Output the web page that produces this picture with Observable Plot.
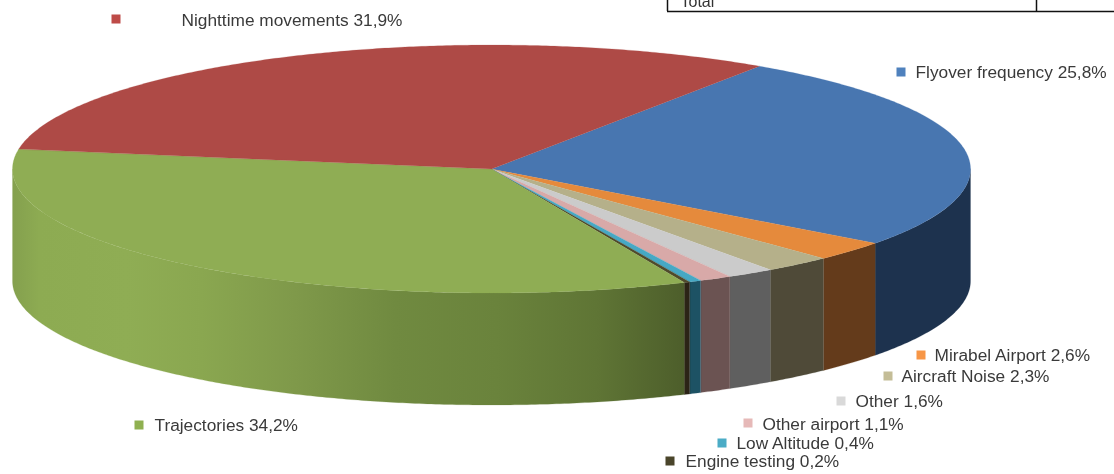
<!DOCTYPE html>
<html>
<head>
<meta charset="utf-8">
<style>html,body{margin:0;padding:0;background:#fff}svg{display:block;filter:blur(0.4px)}</style>
<script src="https://cdn.jsdelivr.net/npm/d3@7"></script>
<script src="https://cdn.jsdelivr.net/npm/@observablehq/plot@0.6"></script>
</head>
<body>
<div id="chart"></div>
<script>
// Data, clockwise from the first slice
const categories = ["Flyover frequency","Mirabel Airport","Aircraft Noise","Other","Other airport","Low Altitude","Engine testing","Trajectories","Nighttime movements"];
const shares = [25.8,2.6,2.3,1.6,1.1,0.4,0.2,34.2,31.9];
const shareLabels = ["25,8%","2,6%","2,3%","1,6%","1,1%","0,4%","0,2%","34,2%","31,9%"];

// Styles
const topColors = ["#4876b0","#e58a3c","#b5b08a","#cbcbcb","#d8a9a8","#46a8c4","#4f4a2c","#8fad54","#ae4a46"];
const sideColors = ["#1d324e","#643b1b","#4f4a38","#5f5f5f","#6b5352","#1d5264","#2b2316","url(#greenSide)","#6e2e2c"];
const swatchColors = ["#4f81bd","#f79646","#c4bd97","#d9d9d9","#e6b9b8","#4bacc6","#4a452a","#8fb050","#be4b48"];
const greenStops = [[0,"#84a04e"],[0.04,"#8dab52"],[0.17,"#8fad54"],[0.28,"#8aa750"],[0.42,"#7f994a"],[0.57,"#708a40"],[0.72,"#6a833c"],[0.87,"#5f7535"],[1,"#4d5e2b"]];

// Layout
const cx = 491.5, cy = 169, rx = 479, ry = 124, depth = 112, startDeg = 34;
const labelAt = [[915,72],[934,355],[901,376],[855,401],[762,424],[736,443],[685,461],[154,425],[181,20]];
const swatchAt = [[901,72],[921,355],[888,376],[841,401],[748,423],[722,443],[670,461],[139,425],[116,19]];

const total = d3.sum(shares);
const rim = (deg) => {
  const a = deg * Math.PI / 180;
  return [cx + rx * Math.sin(a), cy - ry * Math.cos(a)];
};
let cumulative = startDeg;
const slices = categories.map((name, i) => {
  const from = cumulative;
  const to = from + shares[i] / total * 360;
  cumulative = to;
  return {name, from, to, top: topColors[i], side: sideColors[i]};
});
const tops = slices.flatMap(s => {
  const n = Math.max(2, Math.ceil(s.to - s.from) * 2);
  return d3.range(n + 1).map(k => {
    const [x, y] = rim(s.from + (s.to - s.from) * k / n);
    return {name: s.name, color: s.top, x, y, x0: cx, y0: cy};
  });
});
const sides = slices.filter(s => s.from < 270 && s.to > 90).flatMap(s => {
  const lo = Math.max(s.from, 90), hi = Math.min(s.to, 270);
  const n = Math.max(2, Math.ceil(hi - lo) * 2);
  return d3.range(n + 1).map(k => {
    const [x, y] = rim(lo + (hi - lo) * k / n);
    return {name: s.name, color: s.side, x, y, yb: y + depth};
  });
});
const legend = categories.map((name, i) => ({
  text: `${name} ${shareLabels[i]}`, tx: labelAt[i][0], ty: labelAt[i][1],
  sx: swatchAt[i][0], sy: swatchAt[i][1], color: swatchColors[i]
}));

const defs = () => {
  const d = d3.create("svg:defs");
  const g = d.append("linearGradient").attr("id", "greenSide").attr("x1", 0).attr("x2", 1).attr("y1", 0).attr("y2", 0);
  greenStops.forEach(([o, c]) => g.append("stop").attr("offset", o).attr("stop-color", c));
  return d.node();
};

const chart = Plot.plot({
  width: 1114, height: 474, margin: 0,
  x: {domain: [0, 1114], range: [0, 1114], axis: null},
  y: {domain: [0, 474], range: [0, 474], axis: null},
  color: {type: "identity"},
  style: {background: "#fff", fontFamily: "'Liberation Sans', Arial, sans-serif"},
  marks: [
    defs,
    Plot.area(sides, {x1: "x", y1: "y", x2: "x", y2: "yb", z: "name", fill: "color", stroke: "color", strokeWidth: 0.2}),
    Plot.area(tops, {x1: "x0", y1: "y0", x2: "x", y2: "y", z: "name", fill: "color", stroke: "color", strokeWidth: 0.2}),
    // partial table cropped at the top of the picture
    Plot.ruleY([11], {x1: 667, x2: 1114, stroke: "#111", strokeWidth: 1.5}),
    Plot.ruleX([667, 1036], {y1: 0, y2: 11, stroke: "#111", strokeWidth: 1.5}),
    Plot.text(["Total"], {x: 680, y: 1, text: d => d, textAnchor: "start", lineAnchor: "middle", fontSize: 16, fill: "#333"}),
    Plot.rect(legend, {x1: d => d.sx - 4.5, x2: d => d.sx + 4.5, y1: d => d.sy - 4.5, y2: d => d.sy + 4.5, fill: "color"}),
    Plot.text(legend, {x: "tx", y: "ty", text: "text", textAnchor: "start", lineAnchor: "middle", fontSize: 17.3, fill: "#3a3a3a"})
  ]
});
document.getElementById("chart").append(chart);
</script>
</body>
</html>
